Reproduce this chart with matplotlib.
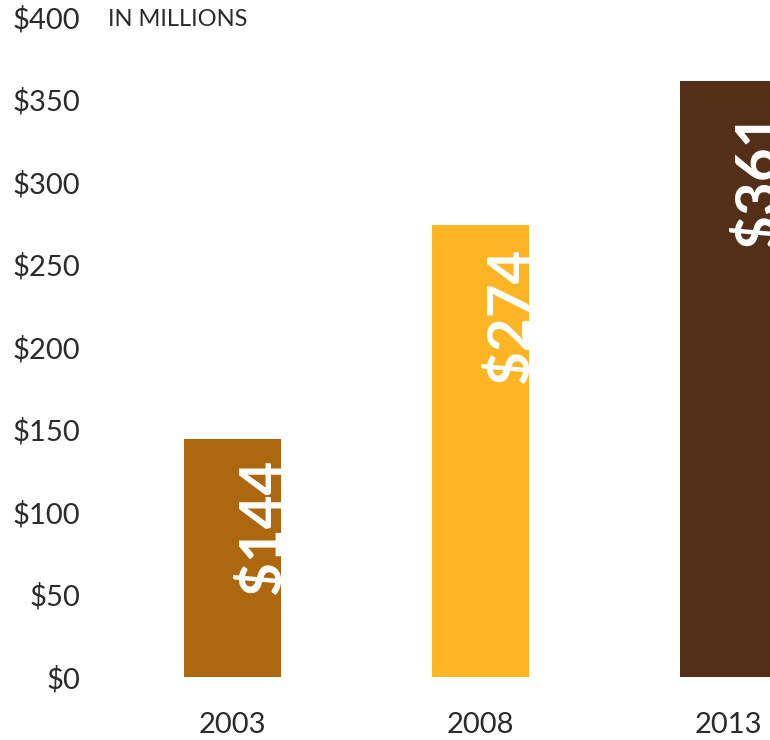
import matplotlib
matplotlib.use("Agg")
import matplotlib.pyplot as plt

years = ["2003", "2008", "2013"]
values = [144, 274, 361]
value_labels = ["$144", "$274", "$361"]
bar_colors = ["#AD670E", "#FDB523", "#542F17"]
y_ticks = [0, 50, 100, 150, 200, 250, 300, 350, 400]
y_tick_labels = ["$0", "$50", "$100", "$150", "$200", "$250", "$300", "$350", "$400"]
unit_note = "IN MILLIONS"

plt.rcParams["font.family"] = ["Lato", "DejaVu Sans"]

W, H = 770, 740
fig = plt.figure(figsize=(W / 100, H / 100), dpi=100)
left_px, bottom_px = 100, 677
ax = fig.add_axes([left_px / W, (H - bottom_px) / H, 1 - left_px / W, bottom_px / H])

px_per_cat = 248.0
bar_w = 97 / px_per_cat
x = list(range(len(years)))
ax.bar(x, values, width=bar_w, color=bar_colors, zorder=2)

ax.set_xlim((left_px - 232.5) / px_per_cat, 2 + (W - 728.5) / px_per_cat)
ax.set_ylim(0, bottom_px / 1.65)

ax.set_yticks(y_ticks)
ax.set_yticklabels(y_tick_labels, fontsize=21, color="#2b2b2b")
ax.set_xticks(x)
ax.set_xticklabels(years, fontsize=21, color="#2b2b2b")
ax.tick_params(axis="y", length=0, pad=14)
ax.tick_params(axis="x", length=0, pad=25)
for s in ax.spines.values():
    s.set_visible(False)

pads = [-19, -23, -30]
for xi, v, lab, p in zip(x, values, value_labels, pads):
    ax.annotate(lab, xy=(xi + bar_w / 2, v), xytext=(-1, p), textcoords="offset pixels",
                rotation=90, rotation_mode="anchor", ha="right", va="baseline",
                fontsize=42, fontweight="bold", color="white", zorder=3,
                annotation_clip=False)

fig.text(108 / W, 1 - 20 / H, unit_note, fontsize=17, color="#2b2b2b", ha="left", va="center")

fig.savefig("out.png", dpi=100)
